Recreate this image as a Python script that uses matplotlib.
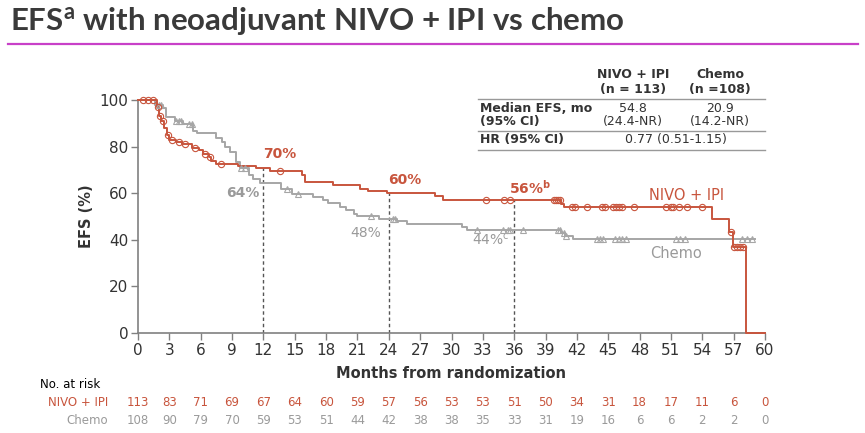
import numpy as np
import matplotlib
matplotlib.use("Agg")
import matplotlib.pyplot as plt
from matplotlib.lines import Line2D

# Kaplan-Meier steps (months, EFS %)
nivo_t = [0, 1.8, 2.0, 2.2, 2.5, 2.8, 3.0, 3.6, 4.2, 5.2, 5.8, 6.2, 6.8, 7.0, 7.5,
          9.6, 11.3, 12.6, 15.7, 16.0, 18.7, 21.2, 22.0, 23.8, 28.4, 29.2,
          40.5, 40.8, 54.9, 56.6, 56.9, 58.2, 60]
nivo_s = [100, 97, 93, 91, 88, 85, 83, 82, 81, 79.5, 78.5, 77, 75.5, 74, 72.5,
          71.5, 70.8, 69.6, 68, 65, 63.5, 62, 61, 60, 59, 57,
          55.5, 54, 49, 43.5, 37, 0, 0]
nivo_cens = [0.5, 1.0, 1.4, 1.9, 2.1, 2.4, 2.9, 3.3, 3.9, 4.5, 5.5, 6.4, 6.9, 7.9,
             13.6, 33.3, 35.0, 35.6, 39.8, 40.0, 40.2, 40.4, 41.5, 41.8, 43.0,
             44.4, 44.7, 45.5, 45.7, 46.0, 46.3, 47.5, 50.5, 51.0, 51.2, 51.8,
             52.5, 54.0, 56.7, 57.0, 57.3, 57.6, 57.9]

chemo_t = [0, 1.6, 2.4, 2.7, 3.5, 4.3, 5.3, 5.6, 7.5, 8.0, 8.3, 8.8, 9.4, 9.8,
           10.6, 11.0, 11.7, 13.7, 14.7, 16.7, 17.7, 18.2, 19.3, 19.9, 20.7,
           21.0, 23.1, 24.8, 25.7, 31.0, 31.5, 40.5, 40.9, 41.6, 59]
chemo_s = [100, 98, 96.5, 92.5, 91, 89.7, 86.5, 85.8, 83.7, 82, 80, 77.7, 73.5,
           70.8, 67.8, 66, 64.5, 62, 59.6, 58.4, 57, 56, 54.2, 52.8, 51, 50.2,
           49, 48, 46.8, 45.5, 44, 43, 41.7, 40.5, 40.5]
chemo_cens = [2.0, 2.2, 3.6, 3.9, 4.1, 4.9, 5.2, 9.9, 10.2, 14.3, 15.3, 22.3,
              24.4, 24.6, 32.4, 34.9, 35.4, 35.6, 36.8, 40.2, 40.4, 40.8, 41.0,
              43.9, 44.2, 44.5, 45.6, 46.0, 46.3, 46.7, 51.5, 51.9, 52.3, 57.8,
              58.3, 58.8]

risk_months = list(range(0, 61, 3))
nivo_risk = [113, 83, 71, 69, 67, 64, 60, 59, 57, 56, 53, 53, 51, 50, 34, 31, 18, 17, 11, 6, 0]
chemo_risk = [108, 90, 79, 70, 59, 53, 51, 44, 42, 38, 38, 35, 33, 31, 19, 16, 6, 6, 2, 2, 0]

landmarks = [12, 24, 36]

RED = "#c8553d"
GRAY = "#a6a6a6"
GTXT = "#9a9a9a"
DARK = "#333333"

plt.rcParams['font.family'] = ['DejaVu Sans']


def step_val(t, s, x):
    i = np.searchsorted(t, x, side='right') - 1
    return np.array(s)[i]


fig = plt.figure(figsize=(8.65, 4.33), dpi=100)
ax = fig.add_axes([138 / 865, 1 - 333 / 433, 627 / 865, 233 / 433])

ax.step(nivo_t, nivo_s, where='post', color=RED, lw=1.4, clip_on=False, zorder=4)
ax.step(chemo_t, chemo_s, where='post', color=GRAY, lw=1.4, clip_on=False, zorder=3)
ax.plot(nivo_cens, step_val(nivo_t, nivo_s, nivo_cens), 'o', ms=4.5, mfc='none',
        mec=RED, mew=0.8, clip_on=False, zorder=5)
ax.plot(chemo_cens, step_val(chemo_t, chemo_s, chemo_cens), '^', ms=4.5, mfc='none',
        mec=GRAY, mew=0.8, clip_on=False, zorder=4)

for m in landmarks:
    ax.plot([m, m], [0, step_val(nivo_t, nivo_s, m)], color='#555555', lw=1,
            ls=(0, (2.5, 2)), zorder=2)

ax.text(13.6, 74, "70%", color=RED, fontsize=10, fontweight='bold', ha='center', va='bottom')
ax.text(25.5, 62.5, "60%", color=RED, fontsize=10, fontweight='bold', ha='center', va='bottom')
ax.text(37.5, 58.5, r"56%$^{\mathregular{b}}$", color=RED, fontsize=10, fontweight='bold', ha='center', va='bottom')
ax.text(10.0, 60, "64%", color=GTXT, fontsize=10, fontweight='bold', ha='center', va='center')
ax.text(21.8, 43, "48%", color=GTXT, fontsize=10, ha='center', va='center')
ax.text(33.8, 40, r"44%$^{\mathregular{c}}$", color=GTXT, fontsize=10, ha='center', va='center')
ax.text(52.5, 59, "NIVO + IPI", color=RED, fontsize=10.5, ha='center', va='center')
ax.text(51.5, 34, "Chemo", color=GTXT, fontsize=10.5, ha='center', va='center')

ax.set_xlim(0, 60)
ax.set_ylim(0, 100)
ax.set_xticks(risk_months)
ax.set_yticks(range(0, 101, 20))
ax.tick_params(axis='both', direction='out', length=5, width=1, color='#808080',
               labelsize=11, labelcolor=DARK, pad=2)
for side in ['top', 'right']:
    ax.spines[side].set_visible(False)
for side in ['left', 'bottom']:
    ax.spines[side].set_color('#808080')
    ax.spines[side].set_linewidth(1.2)
ax.set_xlabel("Months from randomization", fontsize=10.5, fontweight='bold', color=DARK, labelpad=6)
ax.set_ylabel("EFS (%)", fontsize=10.5, fontweight='bold', color=DARK, labelpad=4)

# number at risk
tr = ax.get_xaxis_transform()
fig.text(40 / 865, 1 - 385 / 433, "No. at risk", fontsize=8.5, color='black', va='center')
fig.text(108 / 865, 1 - 402 / 433, "NIVO + IPI", fontsize=8.5, color=RED, va='center', ha='right')
fig.text(108 / 865, 1 - 421 / 433, "Chemo", fontsize=8.5, color=GTXT, va='center', ha='right')
for m, a, b in zip(risk_months, nivo_risk, chemo_risk):
    ax.text(m, (333 - 402) / 233, str(a), transform=tr, ha='center', va='center',
            fontsize=8.5, color=RED, clip_on=False)
    ax.text(m, (333 - 421) / 233, str(b), transform=tr, ha='center', va='center',
            fontsize=8.5, color=GTXT, clip_on=False)

# title and rule
fig.text(10 / 865, 1 - 22 / 433, r"EFS$^{\mathregular{a}}$ with neoadjuvant NIVO + IPI vs chemo",
         fontsize=22.5, color='#3a3a3a', va='center', ha='left', family=['Lato', 'DejaVu Sans'],
         fontweight='bold')
fig.add_artist(Line2D([8 / 865, 858 / 865], [1 - 44 / 433] * 2, color='#c840c8', lw=1.6))

# summary table
def fy(py):
    return 1 - py / 433

tsize = 9
fig.text(633 / 865, fy(75), "NIVO + IPI", fontsize=tsize, color=DARK, ha='center', va='center', fontweight='bold')
fig.text(633 / 865, fy(90), "(n = 113)", fontsize=tsize, color=DARK, ha='center', va='center', fontweight='bold')
fig.text(720 / 865, fy(75), "Chemo", fontsize=tsize, color=DARK, ha='center', va='center', fontweight='bold')
fig.text(720 / 865, fy(90), "(n =108)", fontsize=tsize, color=DARK, ha='center', va='center', fontweight='bold')
fig.text(480 / 865, fy(108), "Median EFS, mo", fontsize=tsize, color=DARK, va='center', fontweight='bold')
fig.text(480 / 865, fy(122), "(95% CI)", fontsize=tsize, color=DARK, va='center', fontweight='bold')
fig.text(633 / 865, fy(108), "54.8", fontsize=tsize, color=DARK, ha='center', va='center')
fig.text(633 / 865, fy(122), "(24.4-NR)", fontsize=tsize, color=DARK, ha='center', va='center')
fig.text(720 / 865, fy(108), "20.9", fontsize=tsize, color=DARK, ha='center', va='center')
fig.text(720 / 865, fy(122), "(14.2-NR)", fontsize=tsize, color=DARK, ha='center', va='center')
fig.text(480 / 865, fy(140), "HR (95% CI)", fontsize=tsize, color=DARK, va='center', fontweight='bold')
fig.text(676 / 865, fy(140), "0.77 (0.51-1.15)", fontsize=tsize, color=DARK, ha='center', va='center')
for py in [99, 131, 150]:
    fig.add_artist(Line2D([478 / 865, 765 / 865], [fy(py)] * 2, color='#999999', lw=1))

fig.savefig("out.png", dpi=100)
